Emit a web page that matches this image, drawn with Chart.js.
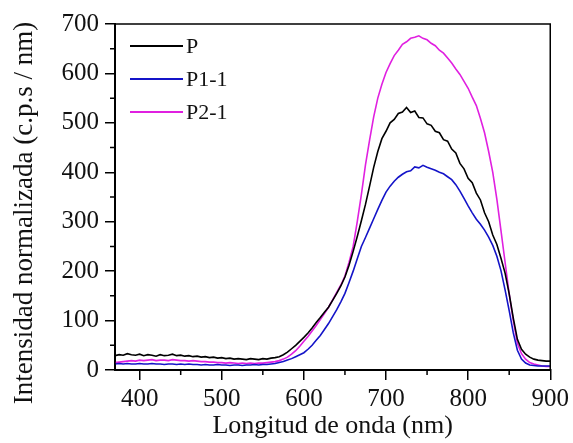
<!DOCTYPE html>
<html>
<head>
<meta charset="utf-8">
<script src="https://cdn.jsdelivr.net/npm/chart.js@4.4.1/dist/chart.umd.min.js"></script>
<style>
  html, body { margin: 0; padding: 0; background: #fff; }
</style>
</head>
<body>
<canvas id="spectraChart" width="573" height="443"></canvas>
<script>
// wavelength (nm), 5 nm steps
const wavelengths = [370,375,380,385,390,395,400,405,410,415,420,425,430,435,440,445,450,
  455,460,465,470,475,480,485,490,495,500,505,510,515,520,525,530,535,540,545,550,555,560,565,
  570,575,580,585,590,595,600,605,610,615,620,625,630,635,640,645,
  650,655,660,665,670,675,680,685,690,695,700,705,710,715,720,725,730,735,740,745,750,755,760,765,
  770,775,780,785,790,795,800,805,810,815,820,825,830,835,840,845,850,855,860,865,870,875,880,885,890,895,900];

const seriesP = [29,31,30,33,31,30,32,29,31,30,28,31,29,30,32,29,30,
  28,29,27,28,26,27,25,26,24,25,23,24,22,23,22,21,23,22,21,23,22,24,25,
  27,31,36,43,50,58,66,75,85,96,106,117,127,141,155,170,
  188,212,240,270,302,335,372,410,442,468,483,500,507,519,522,531,521,524,511,510,498,495,483,480,
  466,463,447,439,418,407,388,379,358,344,318,300,273,254,226,196,154,105,62,42,32,26,22,20,19,18,18];

const seriesP11 = [12,13,12,13,12,12,13,12,12,13,12,12,11,12,12,11,12,
  11,12,11,11,10,11,10,10,11,10,10,9,10,10,9,10,10,11,10,11,11,12,13,
  15,17,20,23,27,31,35,42,50,60,70,82,94,108,122,138,
  155,177,200,225,250,268,287,306,325,343,360,372,382,390,396,401,403,411,409,414,410,407,404,400,
  397,391,385,375,362,347,332,318,305,295,283,269,252,230,201,162,120,75,40,22,14,10,9,8,8,8,8];

const seriesP21 = [15,16,17,18,19,18,20,19,20,21,19,20,20,19,21,20,19,
  19,18,19,18,17,17,16,16,15,15,14,15,14,13,14,13,14,13,14,14,15,16,17,
  19,22,26,32,39,48,58,68,79,90,102,114,127,142,157,172,
  190,218,250,300,355,415,465,512,550,578,602,620,636,647,659,664,671,673,676,671,668,661,656,647,
  641,631,621,609,598,584,570,552,535,509,480,442,400,345,282,218,154,100,54,33,22,15,12,10,8,7,7];

const seriesNames = ['P', 'P1-1', 'P2-1'];
const seriesColors = ['#000000', '#1414c8', '#e020e0'];

const xMajor = [400, 500, 600, 700, 800, 900];
const xMinor = [450, 550, 650, 750, 850];
const yMajor = [0, 100, 200, 300, 400, 500, 600, 700];
const yMinor = [50, 150, 250, 350, 450, 550, 650];

const serif = "'Liberation Serif', 'Times New Roman', serif";

function toPoints(vals) {
  return vals.map((v, i) => ({ x: wavelengths[i], y: v }));
}

// frame box, minor ticks, axis titles and inset legend
const framePlugin = {
  id: 'frame',
  afterDraw(chart) {
    const { ctx, chartArea: a, scales: { x, y } } = chart;
    ctx.save();
    ctx.strokeStyle = '#000';
    ctx.lineWidth = 1.5;
    ctx.strokeRect(a.left, a.top, a.right - a.left, a.bottom - a.top);

    ctx.beginPath();
    xMinor.forEach(v => {
      const px = x.getPixelForValue(v);
      ctx.moveTo(px, a.bottom); ctx.lineTo(px, a.bottom + 5);
    });
    yMinor.forEach(v => {
      const py = y.getPixelForValue(v);
      ctx.moveTo(a.left, py); ctx.lineTo(a.left - 5, py);
    });
    ctx.stroke();

    ctx.fillStyle = '#111';
    ctx.font = '26px ' + serif;
    ctx.textAlign = 'center';
    ctx.textBaseline = 'alphabetic';
    ctx.fillText('Longitud de onda (nm)', (a.left + a.right) / 2, 433);

    ctx.save();
    ctx.translate(32, 213);
    ctx.rotate(-Math.PI / 2);
    ctx.font = '27px ' + serif;
    ctx.fillText('Intensidad normalizada (c.p.s / nm)', 0, 0);
    ctx.restore();

    // legend
    ctx.font = '22px ' + serif;
    ctx.textAlign = 'left';
    ctx.textBaseline = 'middle';
    seriesNames.forEach((name, i) => {
      const ly = 46 + i * 33;
      ctx.strokeStyle = seriesColors[i];
      ctx.lineWidth = 2;
      ctx.beginPath();
      ctx.moveTo(130, ly); ctx.lineTo(183, ly);
      ctx.stroke();
      ctx.fillStyle = '#111';
      ctx.fillText(name, 186, ly + 1);
    });
    ctx.restore();
  }
};

const ctxSpectra = document.getElementById('spectraChart').getContext('2d');
const spectraChart = new Chart(ctxSpectra, {
  type: 'line',
  data: {
    datasets: [
      { label: seriesNames[0], data: toPoints(seriesP), borderColor: seriesColors[0] },
      { label: seriesNames[1], data: toPoints(seriesP11), borderColor: seriesColors[1] },
      { label: seriesNames[2], data: toPoints(seriesP21), borderColor: seriesColors[2] }
    ]
  },
  options: {
    responsive: false,
    animation: false,
    layout: { padding: { top: 24, right: 20, left: 0, bottom: 0 } },
    elements: {
      point: { radius: 0 },
      line: { borderWidth: 1.6, tension: 0 }
    },
    plugins: { legend: { display: false }, tooltip: { enabled: false } },
    scales: {
      x: {
        type: 'linear',
        min: 370, max: 900,
        afterBuildTicks: s => { s.ticks = xMajor.map(v => ({ value: v })); },
        afterFit: s => { s.height = 73; },
        grid: { drawOnChartArea: false, tickLength: 10, color: '#000', lineWidth: 1.5 },
        border: { display: true, color: '#000', width: 2 },
        ticks: { color: '#111', font: { family: serif, size: 25 }, padding: 4, maxRotation: 0 }
      },
      y: {
        min: 0, max: 700,
        afterBuildTicks: s => { s.ticks = yMajor.map(v => ({ value: v })); },
        afterFit: s => { s.width = 115; },
        grid: { drawOnChartArea: false, tickLength: 10, color: '#000', lineWidth: 1.5 },
        border: { display: true, color: '#000', width: 2 },
        ticks: { color: '#111', font: { family: serif, size: 25 }, padding: 6 }
      }
    }
  },
  plugins: [framePlugin]
});
</script>
</body>
</html>
